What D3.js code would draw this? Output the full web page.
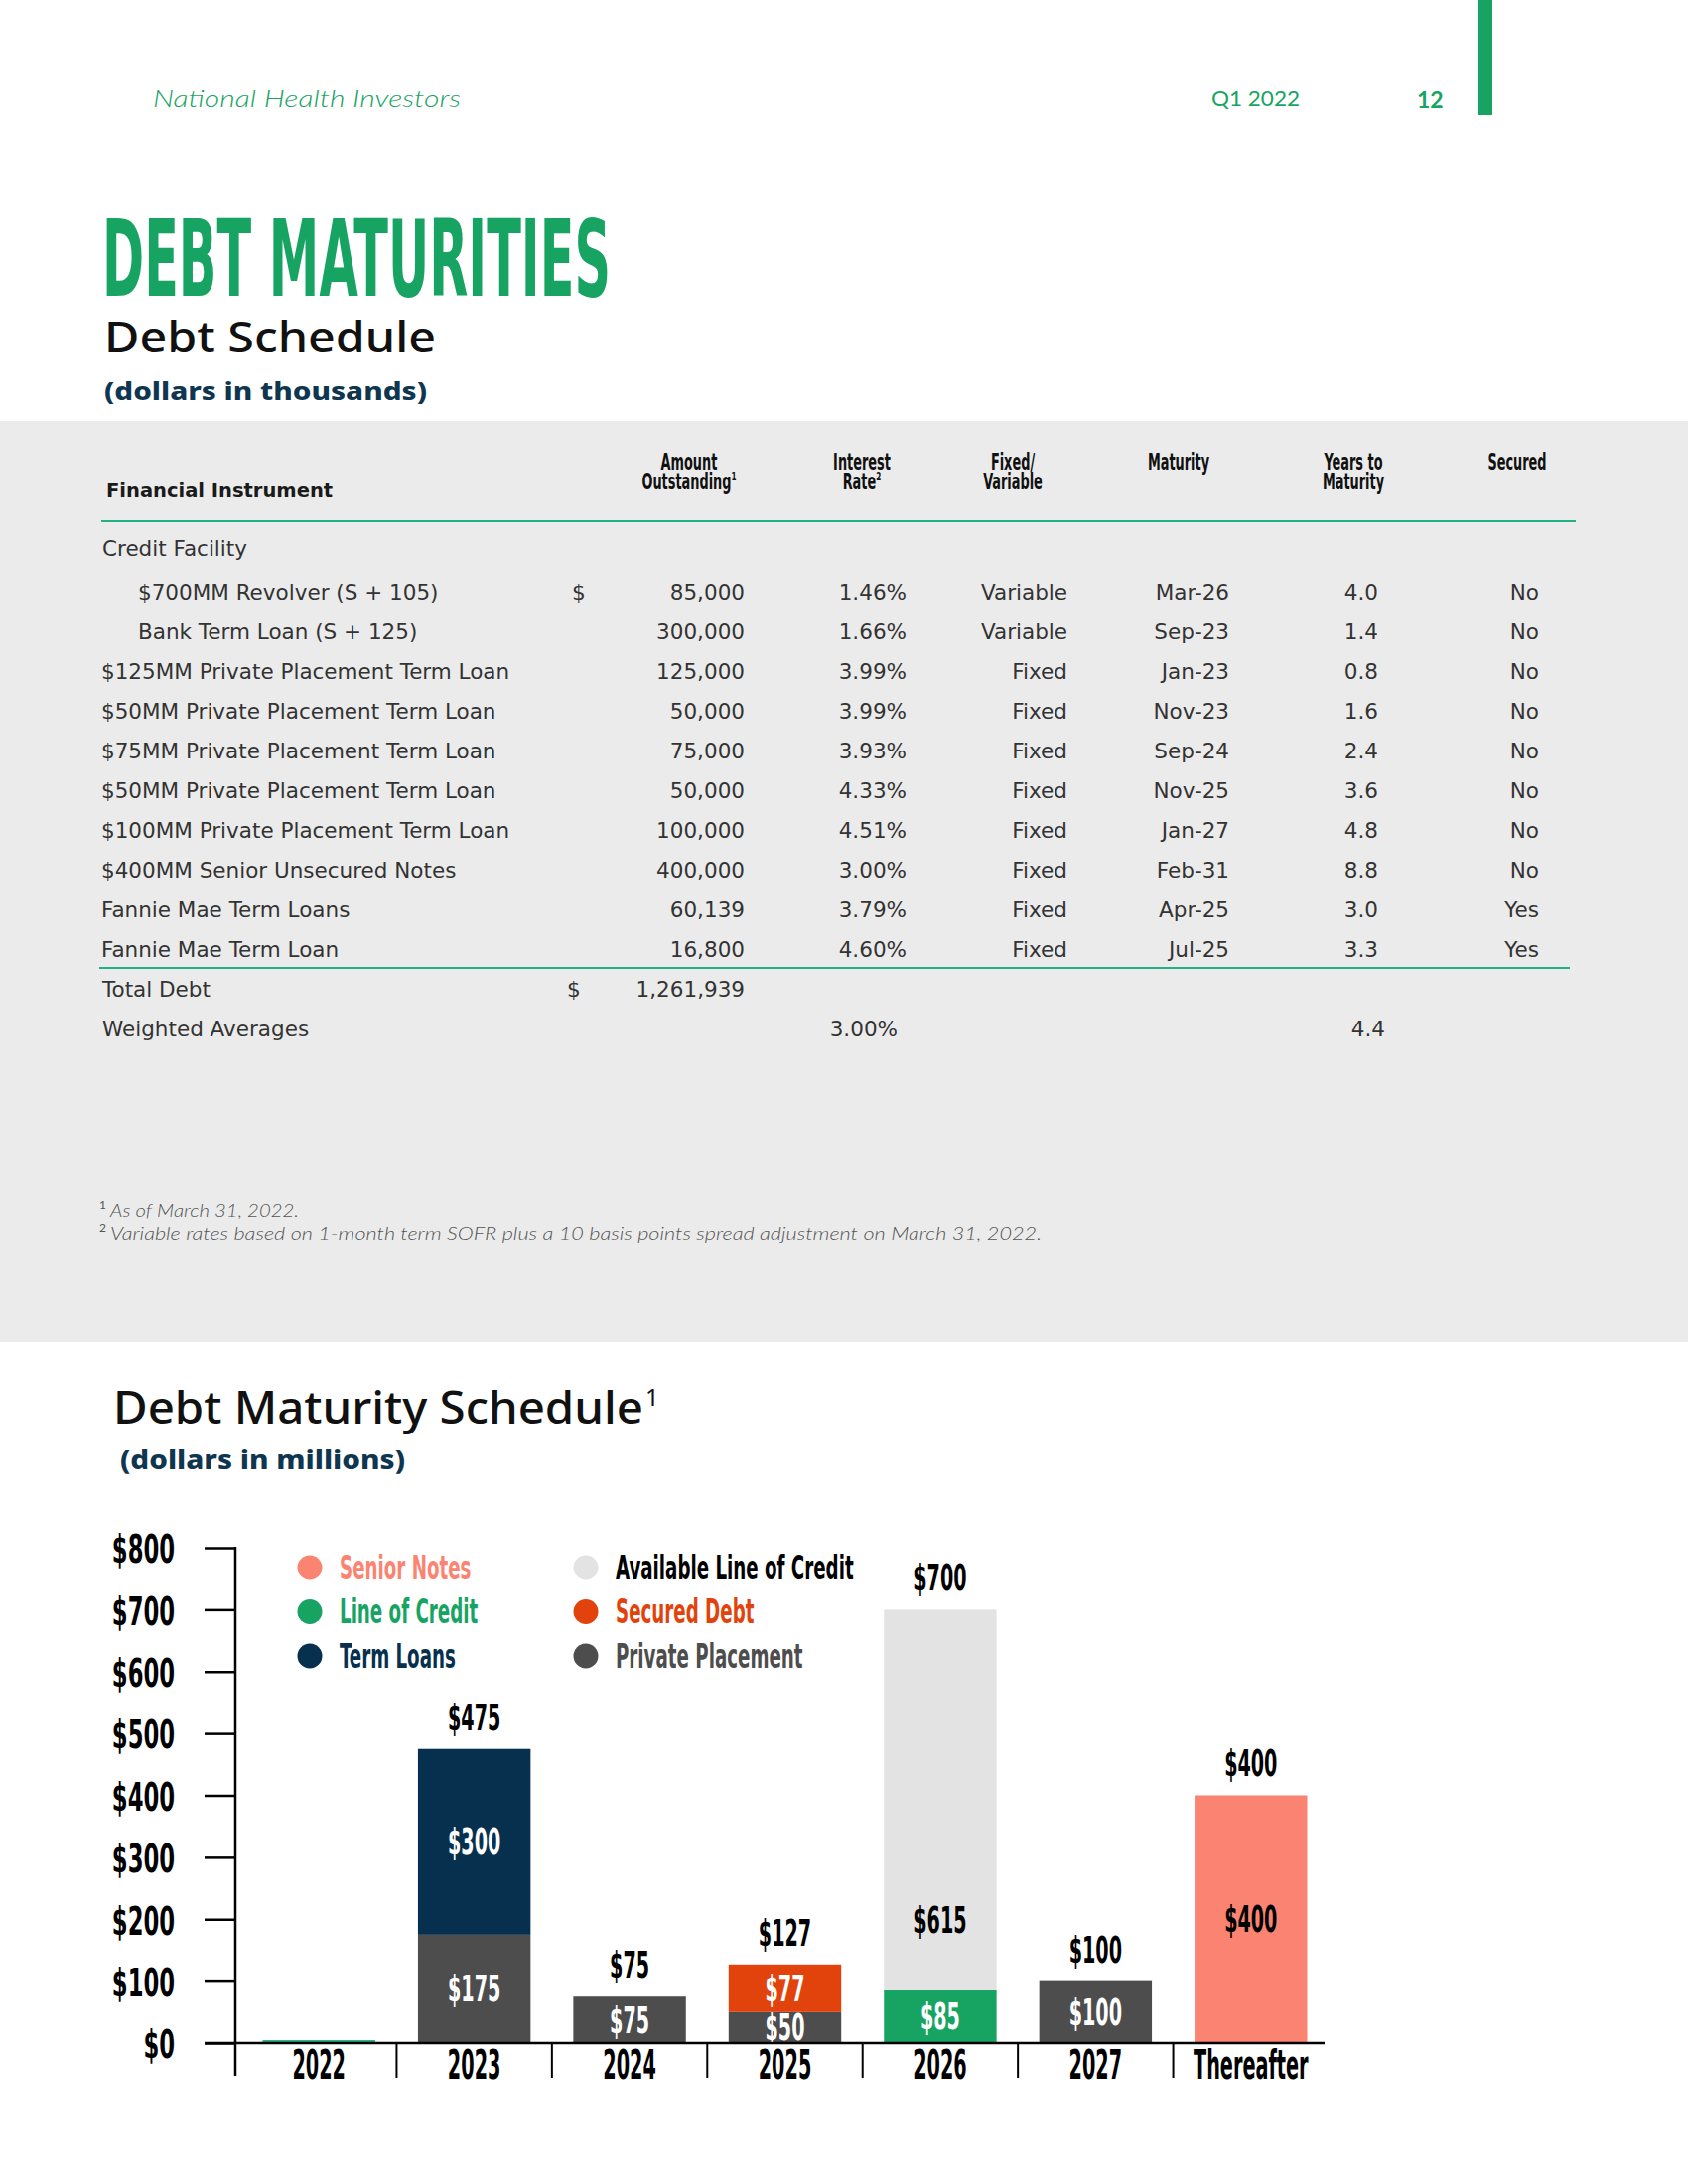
<!DOCTYPE html>
<html>
<head>
<meta charset="utf-8">
<script src="https://cdn.jsdelivr.net/npm/d3@7"></script>
<style>
  body { margin: 0; background: #fff; }
  svg  { display: block; }
</style>
</head>
<body>
<svg id="page" width="1700" height="2200"></svg>
<script>
// ---------- debt schedule table (dollars in thousands)
const instruments = [
  '$700MM Revolver (S + 105)',
  'Bank Term Loan (S + 125)',
  '$125MM Private Placement Term Loan',
  '$50MM Private Placement Term Loan',
  '$75MM Private Placement Term Loan',
  '$50MM Private Placement Term Loan',
  '$100MM Private Placement Term Loan',
  '$400MM Senior Unsecured Notes',
  'Fannie Mae Term Loans',
  'Fannie Mae Term Loan'
]
const indented   = [true, true, false, false, false, false, false, false, false, false]
const amounts    = [85000, 300000, 125000, 50000, 75000, 50000, 100000, 400000, 60139, 16800]
const rates      = [1.46, 1.66, 3.99, 3.99, 3.93, 4.33, 4.51, 3.00, 3.79, 4.60]
const rateTypes  = ['Variable', 'Variable', 'Fixed', 'Fixed', 'Fixed', 'Fixed', 'Fixed', 'Fixed', 'Fixed', 'Fixed']
const maturities = ['Mar-26', 'Sep-23', 'Jan-23', 'Nov-23', 'Sep-24', 'Nov-25', 'Jan-27', 'Feb-31', 'Apr-25', 'Jul-25']
const yearsLeft  = [4.0, 1.4, 0.8, 1.6, 2.4, 3.6, 4.8, 8.8, 3.0, 3.3]
const secured    = ['No', 'No', 'No', 'No', 'No', 'No', 'No', 'No', 'Yes', 'Yes']
const totalDebt  = 1261939
const avgRate    = 3.00
const avgYears   = 4.4

// ---------- debt maturity chart (dollars in millions)
const years            = ['2022', '2023', '2024', '2025', '2026', '2027', 'Thereafter']
const privatePlacement = [0, 175, 75, 50, 0, 100, 0]
const lineOfCredit     = [0, 0, 0, 0, 85, 0, 0]
const termLoans        = [0, 300, 0, 0, 0, 0, 0]
const securedDebt      = [0, 0, 0, 77, 0, 0, 0]
const availableCredit  = [0, 0, 0, 0, 615, 0, 0]
const seniorNotes      = [0, 0, 0, 0, 0, 0, 400]
const yTicks           = [0, 100, 200, 300, 400, 500, 600, 700, 800]

const series = [
  {key: 'private',   name: 'Private Placement',        values: privatePlacement, color: '#4d4d4d', text: '#fff'},
  {key: 'loc',       name: 'Line of Credit',           values: lineOfCredit,     color: '#17a463', text: '#fff'},
  {key: 'term',      name: 'Term Loans',               values: termLoans,        color: '#06304d', text: '#fff'},
  {key: 'secured',   name: 'Secured Debt',             values: securedDebt,      color: '#e2430c', text: '#fff'},
  {key: 'available', name: 'Available Line of Credit', values: availableCredit,  color: '#e3e3e3', text: '#000'},
  {key: 'senior',    name: 'Senior Notes',             values: seniorNotes,      color: '#fa8471', text: '#000'}
]
const legendCols = [['senior', 'loc', 'term'], ['available', 'secured', 'private']]

const GREEN  = '#17a463'
const NAVY   = '#0f3650'
const RULE   = '#22b086'
const NARROW = '"Liberation Sans Narrow", "Arial Narrow", "DejaVu Sans Condensed", sans-serif'
const BODY   = '"DejaVu Sans", sans-serif'
const HEAD   = '"Noto Sans", sans-serif'
const LIGHT  = 'Lato, sans-serif'

const svg = d3.select('#page')

// squeeze text horizontally around its own x anchor (condensed display face)
function squeeze(sel, sx)
{
  sel.attr('transform', function()
  {
    const x = +this.getAttribute('x') || 0
    return `translate(${x * (1 - sx)},0) scale(${sx},1)`
  })
}

// width of one digit of the narrow face, in em, whatever font got picked
const narrowDigit = (() =>
{
  const t = svg.append('text')
    .attr('font-family', NARROW).attr('font-weight', 700).attr('font-size', 100)
    .text('0000000000')
  const w = t.node().getComputedTextLength() / 1000
  t.remove()
  return w
})()

// condense so that a digit is `em` wide
function condense(sel, em)
{
  squeeze(sel, em / narrowDigit)
}

// ---------- page header
svg.append('text')
  .attr('x', 154).attr('y', 108)
  .attr('font-family', LIGHT).attr('font-style', 'italic').attr('font-weight', 300)
  .attr('font-size', 24).attr('fill', GREEN)
  .attr('textLength', 310).attr('lengthAdjust', 'spacingAndGlyphs')
  .text('National Health Investors')

svg.append('text')
  .attr('x', 1220).attr('y', 107)
  .attr('font-family', LIGHT).attr('font-size', 21).attr('fill', GREEN)
  .attr('textLength', 89).attr('lengthAdjust', 'spacingAndGlyphs')
  .text('Q1 2022')

svg.append('text')
  .attr('x', 1427).attr('y', 109)
  .attr('font-family', LIGHT).attr('font-weight', 700).attr('font-size', 23).attr('fill', GREEN)
  .text('12')

svg.append('rect').attr('x', 1489).attr('y', 0).attr('width', 14).attr('height', 116).attr('fill', GREEN)

svg.append('text')
  .attr('x', 103).attr('y', 298)
  .attr('font-family', NARROW).attr('font-weight', 700).attr('font-size', 107).attr('fill', GREEN)
  .attr('textLength', 512).attr('lengthAdjust', 'spacingAndGlyphs')
  .text('DEBT MATURITIES')

svg.append('text')
  .attr('x', 105).attr('y', 355)
  .attr('font-family', HEAD).attr('font-weight', 500).attr('font-size', 43).attr('fill', '#111')
  .attr('textLength', 334).attr('lengthAdjust', 'spacingAndGlyphs')
  .text('Debt Schedule')

svg.append('text')
  .attr('x', 105).attr('y', 403)
  .attr('font-family', HEAD).attr('font-weight', 800).attr('font-size', 24).attr('fill', NAVY)
  .attr('textLength', 325).attr('lengthAdjust', 'spacingAndGlyphs')
  .text('(dollars in thousands)')

// ---------- table
svg.append('rect').attr('x', 0).attr('y', 424).attr('width', 1700).attr('height', 928).attr('fill', '#ebebeb')

const tbl = svg.append('g').attr('font-family', BODY).attr('font-size', 21.5).attr('fill', '#333')

tbl.append('text')
  .attr('x', 107).attr('y', 501)
  .attr('font-weight', 700).attr('font-size', 19.5).attr('fill', '#1a1a1a')
  .text('Financial Instrument')

const headers = [
  {x: 694,  lines: ['Amount', 'Outstanding'], sup: '1'},
  {x: 868,  lines: ['Interest', 'Rate'],      sup: '2'},
  {x: 1020, lines: ['Fixed/', 'Variable']},
  {x: 1187, lines: ['Maturity']},
  {x: 1363, lines: ['Years to', 'Maturity']},
  {x: 1528, lines: ['Secured']}
]
headers.forEach(h =>
{
  h.lines.forEach((line, i) =>
  {
    const t = tbl.append('text')
      .attr('x', h.x).attr('y', 473 + i * 20)
      .attr('text-anchor', 'middle')
      .attr('font-family', NARROW).attr('font-weight', 700).attr('font-size', 23).attr('fill', '#111')
      .text(line)
    if(i === h.lines.length - 1 && h.sup)
      t.append('tspan').attr('font-size', 13).attr('dy', -9).text(h.sup)
    condense(t, 0.39)
  })
})

tbl.append('line').attr('x1', 102).attr('x2', 1587).attr('y1', 525).attr('y2', 525)
  .attr('stroke', RULE).attr('stroke-width', 2)
tbl.append('line').attr('x1', 100).attr('x2', 1581).attr('y1', 975).attr('y2', 975)
  .attr('stroke', RULE).attr('stroke-width', 2)

const rowY = d3.scaleLinear().domain([0, 1]).range([604, 644])

tbl.append('text').attr('x', 103).attr('y', 560).text('Credit Facility')

const cols = [
  {values: instruments, x: (d, i) => indented[i] ? 139 : 102, anchor: 'start'},
  {values: amounts.map(d3.format(',')),                x: () => 750,  anchor: 'end'},
  {values: rates.map(d => d3.format('.2f')(d) + '%'), x: () => 913,  anchor: 'end'},
  {values: rateTypes,                                  x: () => 1075, anchor: 'end'},
  {values: maturities,                                 x: () => 1238, anchor: 'end'},
  {values: yearsLeft.map(d3.format('.1f')),            x: () => 1388, anchor: 'end'},
  {values: secured,                                    x: () => 1550, anchor: 'end'}
]
cols.forEach(c =>
{
  tbl.append('g').selectAll('text')
    .data(c.values)
    .join('text')
      .attr('x', c.x)
      .attr('y', (d, i) => rowY(i))
      .attr('text-anchor', c.anchor)
      .text(d => d)
})

tbl.append('text').attr('x', 576).attr('y', rowY(0)).text('$')

const totY = rowY(instruments.length)
tbl.append('text').attr('x', 103).attr('y', totY).text('Total Debt')
tbl.append('text').attr('x', 571).attr('y', totY).text('$')
tbl.append('text').attr('x', 750).attr('y', totY).attr('text-anchor', 'end').text(d3.format(',')(totalDebt))

const avgY = rowY(instruments.length + 1)
tbl.append('text').attr('x', 103).attr('y', avgY).text('Weighted Averages')
tbl.append('text').attr('x', 904).attr('y', avgY).attr('text-anchor', 'end').text(d3.format('.2f')(avgRate) + '%')
tbl.append('text').attr('x', 1395).attr('y', avgY).attr('text-anchor', 'end').text(d3.format('.1f')(avgYears))

// footnotes
const notes = [
  {sup: '1', text: 'As of March 31, 2022.', y: 1226, w: 190},
  {sup: '2', text: 'Variable rates based on 1-month term SOFR plus a 10 basis points spread adjustment on March 31, 2022.', y: 1249, w: 938}
]
notes.forEach(n =>
{
  svg.append('text').attr('x', 100).attr('y', n.y - 8)
    .attr('font-family', LIGHT).attr('font-size', 12).attr('fill', '#555').text(n.sup)
  svg.append('text').attr('x', 111).attr('y', n.y)
    .attr('font-family', LIGHT).attr('font-style', 'italic').attr('font-weight', 300)
    .attr('font-size', 18.5).attr('fill', '#555')
    .attr('textLength', n.w).attr('lengthAdjust', 'spacingAndGlyphs')
    .text(n.text)
})

// ---------- chart titles
svg.append('text')
  .attr('x', 114).attr('y', 1434)
  .attr('font-family', HEAD).attr('font-weight', 500).attr('font-size', 46).attr('fill', '#111')
  .attr('textLength', 534).attr('lengthAdjust', 'spacingAndGlyphs')
  .text('Debt Maturity Schedule')
svg.append('text')
  .attr('x', 650).attr('y', 1416)
  .attr('font-family', HEAD).attr('font-size', 24).attr('fill', '#111')
  .text('1')

svg.append('text')
  .attr('x', 121).attr('y', 1480)
  .attr('font-family', HEAD).attr('font-weight', 800).attr('font-size', 26).attr('fill', NAVY)
  .attr('textLength', 287).attr('lengthAdjust', 'spacingAndGlyphs')
  .text('(dollars in millions)')

// ---------- chart
const x = d3.scaleBand()
  .domain(years)
  .range([243, 1338])
  .paddingInner(0.275)
  .paddingOuter(0.1375)

const y = d3.scaleLinear()
  .domain([0, 800])
  .range([2058, 1559])

const table = years.map((yr, i) =>
{
  const row = {year: yr}
  series.forEach(s => row[s.key] = s.values[i])
  return row
})
const stacked = d3.stack().keys(series.map(s => s.key))(table)
const totals  = table.map(r => d3.sum(series, s => r[s.key]))

const chart = svg.append('g')

// bars
stacked.forEach((layer, li) =>
{
  const s = series[li]
  chart.append('g').attr('fill', s.color)
    .selectAll('rect')
    .data(layer.filter(d => d[1] > d[0]))
    .join('rect')
      .attr('x', d => x(d.data.year))
      .attr('y', d => y(d[1]))
      .attr('width', x.bandwidth())
      .attr('height', d => y(d[0]) - y(d[1]))
})

// empty year shown as a thin line at zero
chart.append('g').selectAll('rect')
  .data(years.filter((yr, i) => totals[i] === 0))
  .join('rect')
    .attr('x', d => x(d))
    .attr('y', y(0) - 3)
    .attr('width', x.bandwidth())
    .attr('height', 2)
    .attr('fill', '#2bb38a')

// segment labels
const BAR_FONT = 37, BAR_EM = 0.36
stacked.forEach((layer, li) =>
{
  const s = series[li]
  const lab = chart.append('g').selectAll('text')
    .data(layer.filter(d => d[1] > d[0]))
    .join('text')
      .attr('x', d => x(d.data.year) + x.bandwidth() / 2)
      .attr('y', d =>
      {
        const mid = s.key === 'available' ? y(d[0]) - 71 : (y(d[0]) + y(d[1])) / 2
        return mid + 13
      })
      .attr('text-anchor', 'middle')
      .attr('font-family', NARROW).attr('font-weight', 700).attr('font-size', BAR_FONT)
      .attr('fill', s.text)
      .text(d => '$' + (d[1] - d[0]))
  condense(lab, BAR_EM)
})

// total labels
const tot = chart.append('g').selectAll('text')
  .data(years.map((yr, i) => ({year: yr, total: totals[i]})).filter(d => d.total > 0))
  .join('text')
    .attr('x', d => x(d.year) + x.bandwidth() / 2)
    .attr('y', d => y(d.total) - 19)
    .attr('text-anchor', 'middle')
    .attr('font-family', NARROW).attr('font-weight', 700).attr('font-size', BAR_FONT)
    .attr('fill', '#000')
    .text(d => '$' + d.total)
condense(tot, BAR_EM)

// y axis
const yAxis = chart.append('g')
  .attr('transform', 'translate(237,0)')
  .call(d3.axisLeft(y).tickValues(yTicks).tickSize(31).tickPadding(30).tickFormat(d => '$' + d))
yAxis.select('.domain').remove()
yAxis.selectAll('.tick line').attr('stroke', '#000').attr('stroke-width', 2.5)
yAxis.selectAll('.tick text')
  .attr('font-family', NARROW).attr('font-weight', 700).attr('font-size', 39).attr('fill', '#000')
  .attr('dy', '0.38em')
condense(yAxis.selectAll('.tick text'), 0.405)
chart.append('line')
  .attr('x1', 237).attr('x2', 237).attr('y1', y(800) - 1).attr('y2', 2091)
  .attr('stroke', '#000').attr('stroke-width', 2.5)

// x axis
const xAxis = chart.append('g')
  .attr('transform', `translate(0,${y(0)})`)
  .call(d3.axisBottom(x).tickSize(0).tickPadding(8))
xAxis.select('.domain').remove()
xAxis.selectAll('.tick text')
  .attr('font-family', NARROW).attr('font-weight', 700).attr('font-size', 40).attr('fill', '#000')
condense(xAxis.selectAll('.tick text'), 0.335)

chart.append('line')
  .attr('x1', 206).attr('x2', 1334).attr('y1', y(0)).attr('y2', y(0))
  .attr('stroke', '#000').attr('stroke-width', 2.5)

const gap = x.step() * x.paddingInner() / 2
chart.append('g').selectAll('line')
  .data(years.slice(1))
  .join('line')
    .attr('x1', d => x(d) - gap).attr('x2', d => x(d) - gap)
    .attr('y1', y(0)).attr('y2', 2093)
    .attr('stroke', '#000').attr('stroke-width', 2)

// legend
const byKey = Object.fromEntries(series.map(s => [s.key, s]))
const legendX = [312, 590]
const legendY = d3.scalePoint().domain([0, 1, 2]).range([1579, 1668])
legendCols.forEach((col, ci) =>
{
  col.forEach((key, ri) =>
  {
    const s  = byKey[key]
    const cy = legendY(ri)
    chart.append('circle').attr('cx', legendX[ci]).attr('cy', cy).attr('r', 12.5).attr('fill', s.color)
    const t = chart.append('text')
      .attr('x', legendX[ci] + 30).attr('y', cy + 12)
      .attr('font-family', NARROW).attr('font-weight', 700).attr('font-size', 33)
      .attr('fill', key === 'available' ? '#000' : s.color)
      .text(s.name)
    condense(t, 0.385)
  })
})
</script>
</body>
</html>
